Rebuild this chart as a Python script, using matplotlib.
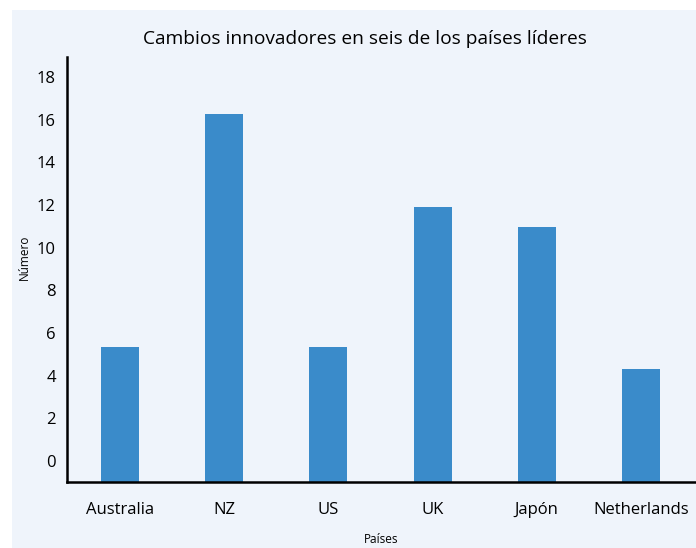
import matplotlib
matplotlib.use("Agg")
import matplotlib.pyplot as plt
from matplotlib.patches import Rectangle

paises = ["Australia", "NZ", "US", "UK", "Japón", "Netherlands"]
valores = [5.33, 16.25, 5.33, 11.9, 10.95, 4.3]
yticks = list(range(0, 19, 2))

plt.rcParams['font.family'] = ['Open Sans', 'DejaVu Sans']

fig = plt.figure(figsize=(6.96, 5.48), dpi=100, facecolor='white')
# light panel behind the chart
fig.patches.append(Rectangle((12/696, 0), 1 - 12/696, 1 - 10/548,
                             transform=fig.transFigure, facecolor='#eff4fb',
                             edgecolor='none', zorder=-10))

ax = fig.add_axes([67/696, 1 - 482.3/548, 1 - 67/696, (482.3 - 57.3)/548])
ax.set_facecolor('none')

ymin = -1
x = list(range(len(paises)))
ax.bar(x, [v - ymin for v in valores], bottom=ymin, width=0.365, color='#3a8bca')

ax.set_xlim(-0.51, 5.53)
ax.set_ylim(ymin, 18.92)
ax.set_yticks(yticks)
ax.set_xticks(x)
ax.set_xticklabels(paises, fontsize=12)
ax.tick_params(axis='y', length=0, pad=8, labelsize=12)
ax.tick_params(axis='x', length=0, pad=14)

for s in ['top', 'right']:
    ax.spines[s].set_visible(False)
for s in ['left', 'bottom']:
    ax.spines[s].set_linewidth(1.8)
    ax.spines[s].set_color('black')

fig.text(365/696, 1 - 39/548, "Cambios innovadores en seis de los países líderes",
         fontsize=13.8, ha='center', va='center')
ax.set_xlabel("Países", fontsize=8.5, labelpad=11)
ax.set_ylabel("Número", fontsize=8.5)
ax.yaxis.set_label_coords(-0.058, 0.53)

fig.savefig("out.png", dpi=100, facecolor='white')
